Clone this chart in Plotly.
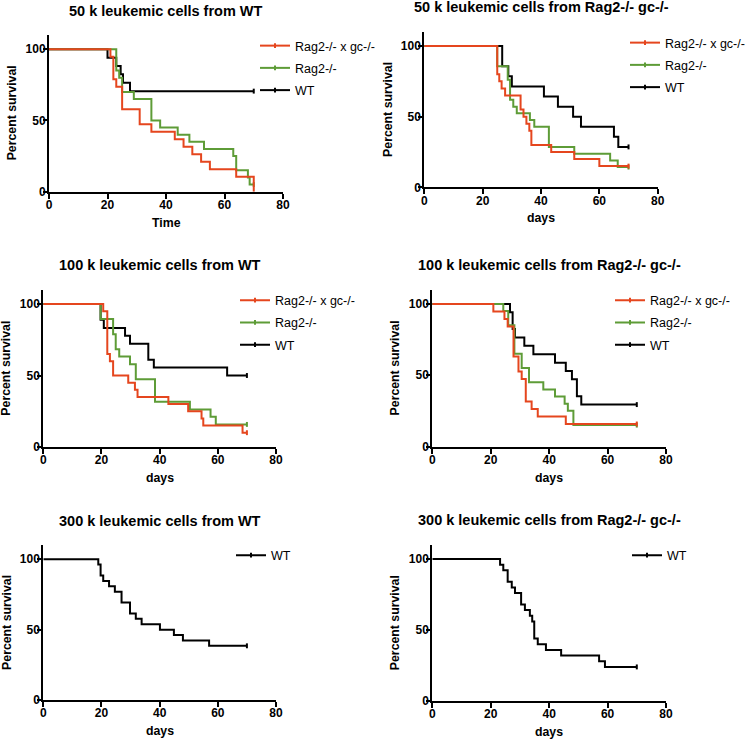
import plotly.graph_objects as go

W, H = 747, 740

# ---------------- data (days, percent survival) ----------------
# Panel 1: 50 k leukemic cells from WT
p1_red_t = [0, 21, 22, 23, 25, 31, 35, 43, 46, 49, 52, 55, 64, 70]
p1_red_s = [100, 94.7, 78.9, 73.7, 57.9, 47.4, 42.1, 36.8, 31.6, 26.3, 21.1, 15.8, 10.5, 0]
p1_grn_t = [0, 23, 24, 25, 29, 35, 38, 44, 48, 53, 63, 64, 68, 68.6, 70]
p1_grn_s = [100, 85, 80, 70, 65, 50, 45, 40, 35, 30, 25, 15, 10, 5, 5]
p1_blk_t = [0, 20, 23, 24.5, 25.3, 27.7, 70]
p1_blk_s = [100, 94.1, 88.2, 82.4, 76.5, 70.6, 70.6]

# Panel 2: 50 k leukemic cells from Rag2-/- gc-/-
p2_red_t = [0, 25, 25.7, 26.5, 27.7, 33, 34, 35, 36, 36.7, 43.5, 51.4, 60, 70]
p2_red_s = [100, 80, 75, 70, 65, 55, 50, 45, 40, 30, 25, 20, 15, 15]
p2_grn_t = [0, 25, 28.6, 29.4, 30.5, 31.7, 36.2, 37.7, 42.7, 51.4, 63.7, 66.3, 70]
p2_grn_s = [100, 85.7, 76.2, 61.9, 57.1, 52.4, 47.6, 42.9, 28.6, 23.8, 19.0, 14.3, 14.3]
p2_blk_t = [0, 26.7, 28.8, 30, 41, 45.8, 51, 53.7, 65, 66.5, 70]
p2_blk_s = [100, 85.7, 78.6, 71.4, 64.3, 57.1, 50, 42.9, 35.7, 28.6, 28.6]

# Panel 3: 100 k leukemic cells from WT
p3_red_t = [0, 20.6, 22, 22.9, 24, 29.2, 31.5, 32.4, 43, 49.8, 54.4, 55, 68.5, 70]
p3_red_s = [100, 95, 65, 60, 50, 45, 40, 35, 30, 25, 20, 15, 10, 10]
p3_grn_t = [0, 19.7, 24, 24.9, 26.1, 29.8, 31.8, 38.4, 50.4, 57.5, 59.3, 70]
p3_grn_s = [100, 89.5, 78.9, 68.4, 63.2, 57.9, 47.4, 31.6, 26.3, 21.1, 15.8, 15.8]
p3_blk_t = [0, 19.7, 20.8, 28.1, 29.8, 36.1, 38, 63.2, 70]
p3_blk_s = [100, 88.9, 83.3, 77.8, 72.2, 61.1, 55.6, 50, 50]

# Panel 4: 100 k leukemic cells from Rag2-/- gc-/-
p4_red_t = [0, 20.9, 24.7, 25.8, 27.8, 29.5, 30.6, 32, 34, 36.1, 45.7, 70]
p4_red_s = [100, 94.7, 89.5, 84.2, 63.2, 52.6, 47.4, 31.6, 26.3, 21.1, 15.8, 15.8]
p4_grn_t = [0, 24.3, 26, 28.1, 30.6, 33.1, 38, 42, 45.3, 46.4, 48.3, 70]
p4_grn_s = [100, 95, 85, 65, 55, 45, 40, 35, 30, 25, 15, 15]
p4_blk_t = [0, 26.6, 27.5, 28.3, 31.5, 34.6, 42, 45.7, 47.8, 49.5, 51, 70]
p4_blk_s = [100, 94.1, 82.4, 76.5, 70.6, 64.7, 58.8, 52.9, 47.1, 35.3, 29.4, 29.4]

# Panel 5: 300 k leukemic cells from WT
p5_blk_t = [0, 18.9, 19.7, 20.6, 22.6, 24.6, 26.9, 29.8, 31.8, 33.8, 40.1, 44.9, 48, 57, 70]
p5_blk_s = [100, 96.2, 88.5, 84.6, 80.8, 76.9, 69.2, 61.5, 57.7, 53.8, 50, 46.2, 42.3, 38.5, 38.5]

# Panel 6: 300 k leukemic cells from Rag2-/- gc-/-
p6_blk_t = [0, 23.2, 24.3, 25.8, 27.2, 28.3, 30.4, 31.7, 33.4, 34.2, 34.9, 36.1, 38.9, 44.1, 57.1, 59.1, 70]
p6_blk_s = [100, 96, 92, 84, 80, 76, 68, 64, 60, 56, 44, 40, 36, 32, 28, 24, 24]

panel_titles = [
    "50 k leukemic cells from WT",
    "50 k leukemic cells from Rag2-/- gc-/-",
    "100 k leukemic cells from WT",
    "100 k leukemic cells from Rag2-/- gc-/-",
    "300 k leukemic cells from WT",
    "300 k leukemic cells from Rag2-/- gc-/-",
]
x_titles = ["Time", "days", "days", "days", "days", "days"]
y_title = "Percent survival"
series_names = ["Rag2-/- x gc-/-", "Rag2-/-", "WT"]
x_ticks = [0, 20, 40, 60, 80]
y_ticks = [0, 50, 100]

RED = "#E5461E"
GREEN = "#5E9C37"
BLACK = "#000000"
FONT = "Liberation Sans, Arial, sans-serif"

# ---------------- layout geometry (pixels) ----------------
# (x_left, x_right, y_top(=110), y_bottom(=0))
boxes = [
    (49, 283, 35, 191.7),
    (424.3, 657.7, 31.9, 187.3),
    (43.3, 276, 289.7, 447),
    (432.3, 666, 289.7, 446.5),
    (43.3, 276, 545.2, 700),
    (432.3, 666, 544.8, 701),
]
legend_pos = [(255, 31), (625, 28), (235, 285.5), (610, 285.5), (231, 540.5), (627, 540.5)]

panels = [
    [(p1_red_t, p1_red_s, RED, 0), (p1_grn_t, p1_grn_s, GREEN, 1), (p1_blk_t, p1_blk_s, BLACK, 2)],
    [(p2_red_t, p2_red_s, RED, 0), (p2_grn_t, p2_grn_s, GREEN, 1), (p2_blk_t, p2_blk_s, BLACK, 2)],
    [(p3_red_t, p3_red_s, RED, 0), (p3_grn_t, p3_grn_s, GREEN, 1), (p3_blk_t, p3_blk_s, BLACK, 2)],
    [(p4_red_t, p4_red_s, RED, 0), (p4_grn_t, p4_grn_s, GREEN, 1), (p4_blk_t, p4_blk_s, BLACK, 2)],
    [(p5_blk_t, p5_blk_s, BLACK, 2)],
    [(p6_blk_t, p6_blk_s, BLACK, 2)],
]

def px(x):
    return x / W

def py(y):
    return 1 - y / H

fig = go.Figure()
annotations = []
layout_upd = {}

for i, (series, box) in enumerate(zip(panels, boxes)):
    k = i + 1
    xa = "x" if k == 1 else f"x{k}"
    ya = "y" if k == 1 else f"y{k}"
    leg = "legend" if k == 1 else f"legend{k}"
    xl, xr, yt, yb = box
    # draw black first, red on top
    for t, s, col, ni in sorted(series, key=lambda z: -z[3]):
        fig.add_trace(go.Scatter(
            x=t, y=s, mode="lines", name=series_names[ni],
            line=dict(color=col, width=2, shape="hv"),
            xaxis=xa, yaxis=ya, showlegend=False, legendgroup=f"g{k}_{ni}",
            cliponaxis=False, hoverinfo="x+y+name",
        ))
        censored = s[-1] > 0
        # censored end point tick (also carries the legend entry)
        fig.add_trace(go.Scatter(
            x=[t[-1]] if censored else [None], y=[s[-1]] if censored else [None],
            mode="lines+markers", name=series_names[ni],
            line=dict(color=col, width=2),
            marker=dict(symbol="line-ns", size=3.5, color=col,
                        line=dict(color=col, width=2)),
            xaxis=xa, yaxis=ya, legend=leg, legendrank=ni + 1,
            legendgroup=f"g{k}_{ni}", cliponaxis=False, hoverinfo="skip",
        ))
    axis_common = dict(showgrid=False, zeroline=False, showline=True,
                       linecolor="black", linewidth=2, ticks="outside",
                       tickwidth=2, tickcolor="black",
                       tickfont=dict(family=FONT, size=12, color="black", weight="bold"))
    layout_upd["xaxis" if k == 1 else f"xaxis{k}"] = dict(
        domain=[px(xl), px(xr)], range=[0, 80], tickvals=x_ticks,
        anchor=ya, ticklen=5, ticklabelstandoff=-4, **axis_common)
    layout_upd["yaxis" if k == 1 else f"yaxis{k}"] = dict(
        domain=[py(yb), py(yt)], range=[0, 110], tickvals=y_ticks,
        anchor=xa, ticklen=4, ticklabelstandoff=-5, **axis_common)
    lx, ly = legend_pos[i]
    layout_upd[leg] = dict(x=px(lx), y=py(ly), xanchor="left", yanchor="top",
                           bgcolor="rgba(0,0,0,0)", traceorder="grouped",
                           tracegroupgap=3, itemwidth=30,
                           font=dict(family=FONT, size=12.5, color="black"))
    cx = (xl + xr) / 2
    annotations.append(dict(text=panel_titles[i], x=px(cx), y=py(yt - 24.5),
                            xref="paper", yref="paper", showarrow=False,
                            xanchor="center", yanchor="middle",
                            font=dict(family=FONT, size=14.5, color="black", weight="bold")))
    annotations.append(dict(text=x_titles[i], x=px(cx), y=py(yb + 31),
                            xref="paper", yref="paper", showarrow=False,
                            xanchor="center", yanchor="middle",
                            font=dict(family=FONT, size=12.3, color="black", weight="bold")))
    annotations.append(dict(text=y_title, x=px(xl - 37), y=py((yt + yb) / 2),
                            xref="paper", yref="paper", showarrow=False,
                            textangle=-90, xanchor="center", yanchor="middle",
                            font=dict(family=FONT, size=12.3, color="black", weight="bold")))

fig.update_layout(
    width=W, height=H,
    margin=dict(l=0, r=0, t=0, b=0, autoexpand=False),
    paper_bgcolor="white", plot_bgcolor="white",
    annotations=annotations,
    showlegend=True,
    **layout_upd,
)

# remove the default 8px page margin so the figure fills the window exactly
fig.write_html("out.html",
               config={"displayModeBar": False},
               post_script="document.body.style.margin='0';document.body.style.overflow='hidden';")
